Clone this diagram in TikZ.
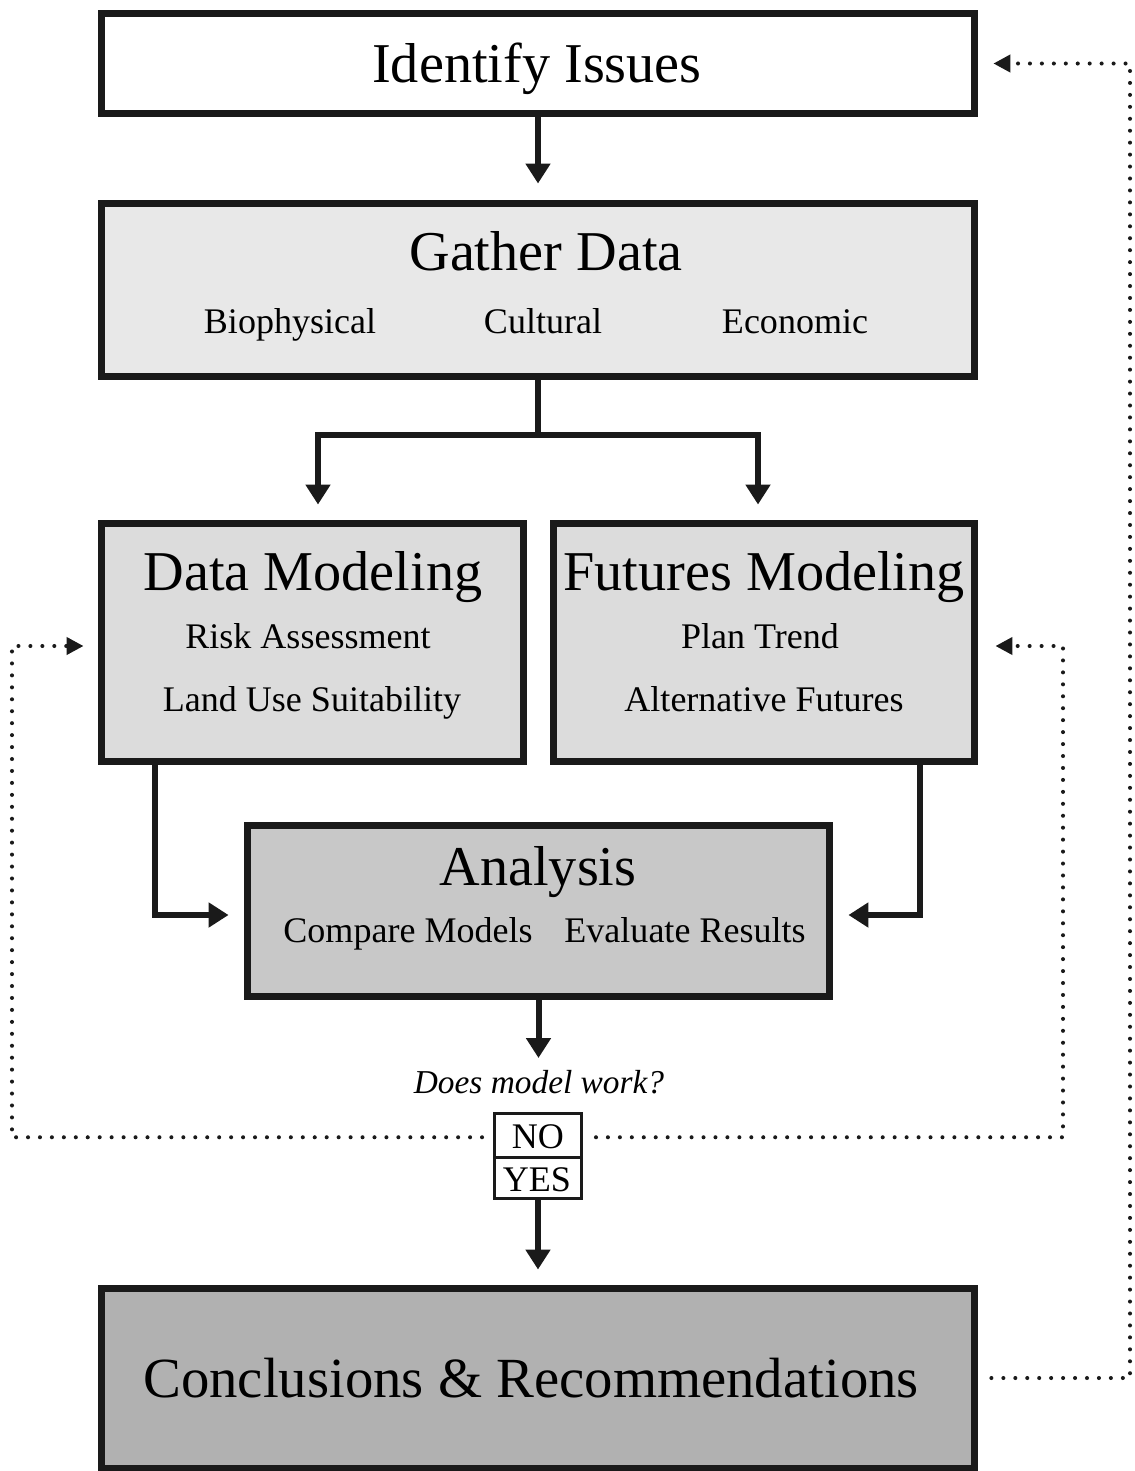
\documentclass[tikz,border=0pt]{standalone}
\usepackage{fontspec}
\setmainfont{Liberation Serif}
\usetikzlibrary{arrows.meta,calc}
\definecolor{bord}{HTML}{1A1A1A}
\definecolor{fillA}{HTML}{E8E8E8}
\definecolor{fillB}{HTML}{DCDCDC}
\definecolor{fillC}{HTML}{C8C8C8}
\definecolor{fillD}{HTML}{B1B1B1}
\tikzset{
  box/.style={draw=bord, line width=0.14cm, rectangle, inner sep=0pt},
  yn/.style={draw=bord, line width=0.06cm, rectangle, inner sep=0pt, minimum width=1.74cm},
  title/.style={anchor=base, inner sep=0pt, font=\fontsize{32}{36}\selectfont},
  sub/.style={anchor=base, inner sep=0pt, font=\fontsize{20.5}{24}\selectfont},
  conn/.style={draw=bord, line width=0.12cm},
  arr/.style={conn, -{Triangle[length=0.4cm,width=0.48cm]}},
  dotline/.style={draw=bord, line width=2.3pt, line cap=round, dash pattern=on 0pt off 6.8pt},
  darr/.style={dotline, -{Triangle[length=0.34cm,width=0.34cm]}},
}
\begin{document}
\begin{tikzpicture}[x=0.02cm,y=-0.02cm]
\useasboundingbox (0,0) rectangle (1134,1471);
% boxes
\node[box, fill=white, minimum width=17.48cm, minimum height=2.02cm] (ii) at (538,63.5) {};
\node[box, fill=fillA, minimum width=17.48cm, minimum height=3.48cm] (gd) at (538,290) {};
\node[box, fill=fillB, minimum width=8.46cm, minimum height=4.78cm] (dm) at (312.5,642.5) {};
\node[box, fill=fillB, minimum width=8.44cm, minimum height=4.78cm] (fm) at (764,642.5) {};
\node[box, fill=fillC, minimum width=11.66cm, minimum height=3.44cm] (an) at (538.5,911) {};
\node[box, fill=fillD, minimum width=17.48cm, minimum height=3.6cm] (cr) at (538,1378) {};
\node[yn, fill=white, minimum height=0.87cm] (no) at (538,1135.25) {};
\node[yn, fill=white, minimum height=0.83cm] (yes) at (538,1177.75) {};
% texts
\node[title] (tii) at (537,82) {Identify Issues};
\node[title] (tgd) at (546,270) {Gather Data};
\node[sub] (bio) at (290,333) {Biophysical};
\node[sub] (cul) at (543,333) {Cultural};
\node[sub] (eco) at (795,333) {Economic};
\node[title] (tdm) at (313,590) {Data Modeling};
\node[sub] (risk) at (308,648) {Risk Assessment};
\node[sub] (land) at (312,711) {Land Use Suitability};
\node[title] (tfm) at (764,590) {Futures Modeling};
\node[sub] (plan) at (760,648) {Plan Trend};
\node[sub] (alt) at (764,711) {Alternative Futures};
\node[title] (tan) at (538,885) {Analysis};
\node[sub] (cmp) at (408,942) {Compare Models};
\node[sub] (evr) at (685,942) {Evaluate Results};
\node[title, font=\fontsize{32.3}{37}\selectfont] (tcr) at (531,1397) {Conclusions \& Recommendations};
\node[anchor=base, inner sep=0pt, font=\fontsize{19}{22}\selectfont\itshape] (q) at (539,1093) {Does model work?};
\node[sub] (tno) at (538,1148) {NO};
\node[sub] (tyes) at (537,1191) {YES};
% solid connectors
\coordinate (split) at (538,435);
\coordinate (qtop) at (538.5,1058);
\draw[arr, shorten >=0.32cm] (ii.south) -- (gd.north);
\draw[conn] (gd.south) -- (split);
\draw[arr, shorten >=0.3cm] (split) -| ([xshift=0.11cm]dm.north);
\draw[arr, shorten >=0.3cm] (split) -| ([xshift=-0.12cm]fm.north);
\draw[arr, shorten >=0.3cm] ([xshift=1.14cm]dm.south west) |- ([yshift=-0.08cm]an.west);
\draw[arr, shorten >=0.3cm] ([xshift=-1.16cm]fm.south east) |- ([yshift=-0.08cm]an.east);
\draw[arr] (an.south) -- (qtop);
\draw[arr, shorten >=0.3cm] (yes.south) -- (cr.north);
% dotted feedback
\draw[darr, shorten <=0.22cm, shorten >=0.28cm] ([yshift=-0.04cm]no.west) -| (12,900) |- ([yshift=-0.07cm]dm.west);
\draw[darr, shorten <=0.26cm, shorten >=0.34cm] ([yshift=-0.04cm]no.east) -| (1063,900) |- ([yshift=-0.07cm]fm.east);
\draw[darr, shorten <=0.26cm, shorten >=0.3cm] (cr.east) -| (1130,700) |- (ii.east);
\end{tikzpicture}
\end{document}
